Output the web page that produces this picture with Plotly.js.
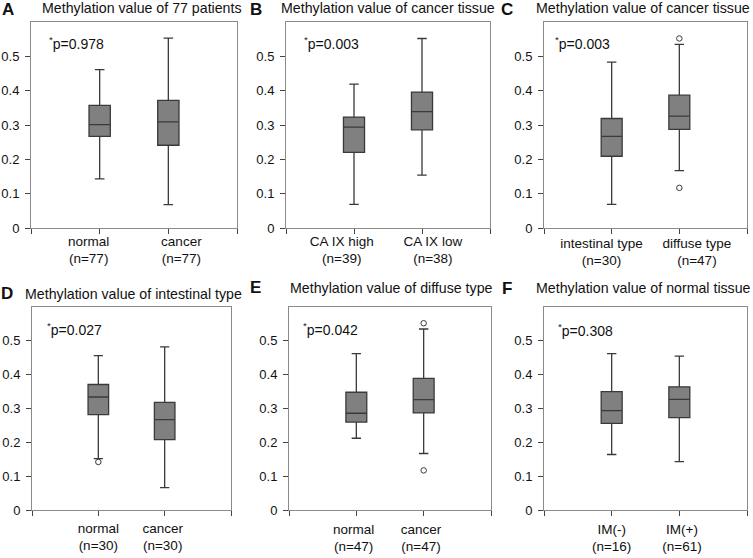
<!DOCTYPE html>
<html>
<head>
<meta charset="utf-8">
<script src="https://cdn.plot.ly/plotly-3.0.1.min.js"></script>
<style>
html,body{margin:0;padding:0;background:#fff;}
#chart{width:753px;height:558px;}
</style>
</head>
<body>
<div id="chart"></div>
<script>
// ---- data ----
const panelLetters = ['A','B','C','D','E','F'];
const panelTitles = [
  'Methylation value of 77 patients',
  'Methylation value of cancer tissue',
  'Methylation value of cancer tissue',
  'Methylation value of intestinal type',
  'Methylation value of diffuse type',
  'Methylation value of normal tissue'
];
const pValues = ['0.978','0.003','0.003','0.027','0.042','0.308'];
const groupLabels = [
  ['normal','cancer'],
  ['CA IX high','CA IX low'],
  ['intestinal type','diffuse type'],
  ['normal','cancer'],
  ['normal','cancer'],
  ['IM(-)','IM(+)']
];
const groupN = [[77,77],[39,38],[30,47],[30,30],[47,47],[16,61]];
const lowerWhisker = [[0.143,0.068],[0.069,0.154],[0.069,0.167],[0.152,0.066],[0.212,0.167],[0.164,0.143]];
const q1Values     = [[0.267,0.241],[0.220,0.286],[0.209,0.287],[0.282,0.208],[0.260,0.287],[0.256,0.273]];
const medianValues = [[0.301,0.309],[0.294,0.339],[0.267,0.326],[0.334,0.267],[0.286,0.326],[0.294,0.327]];
const q3Values     = [[0.357,0.372],[0.323,0.396],[0.319,0.387],[0.371,0.318],[0.348,0.389],[0.350,0.364]];
const upperWhisker = [[0.461,0.553],[0.419,0.552],[0.483,0.535],[0.456,0.482],[0.462,0.535],[0.462,0.455]];
const outlierValues = [
  [[],[]],
  [[],[]],
  [[],[0.552,0.117]],
  [[0.142],[]],
  [[],[0.552,0.117]],
  [[],[]]
];
const yTickValues = [0,0.1,0.2,0.3,0.4,0.5];
const yTickLabels = ['0','0.1','0.2','0.3','0.4','0.5'];

// ---- layout geometry ----
const W = 753, H = 558;
const xPix = [[31,237],[286,490],[544,747],[32,231],[289,491],[544,747]];
const yPix = [[22,228],[22,228],[22,228],[307,510],[307,510],[307,510]];
const letterPos = [[8,10],[256,10],[507,10],[7,293],[256,287],[507,289]];
const titlePos = [[142,8],[388,8],[643,8],[133,294],[391,288],[643,288]];
const pPos = [[47,43],[302,43],[553,43],[45,329],[301,329],[556,330]];
// horizontal offset (in category units) of each category label from its tick
const labelOffset = [[-0.16,0.19],[-0.18,0.16],[-0.15,0.26],[0,-0.03],[-0.04,-0.04],[0,0.04]];
const labelStandoff = [3,3,5,8,9,9];

const FONT = 'Liberation Sans, Arial, sans-serif';
const INK = '#111';
const BOX_LINE = '#3a3a3a';
const BOX_FILL = '#808080';

const traces = [];
const annotations = [];
const layout = {
  width: W, height: H,
  margin: {l:0, r:0, t:0, b:0},
  paper_bgcolor: '#fff',
  plot_bgcolor: '#fff',
  showlegend: false,
  font: {family: FONT, color: INK, size: 14},
  annotations: annotations
};

const positions = [1, 2];

for (let p = 0; p < 6; p++) {
  const k = p + 1;
  const xa = 'x' + (k === 1 ? '' : k);
  const ya = 'y' + (k === 1 ? '' : k);
  traces.push({
    type: 'box',
    x: positions,
    q1: q1Values[p],
    median: medianValues[p],
    q3: q3Values[p],
    lowerfence: lowerWhisker[p],
    upperfence: upperWhisker[p],
    width: 0.31,
    whiskerwidth: 0.45,
    fillcolor: BOX_FILL,
    line: {color: BOX_LINE, width: 1.3},
    boxpoints: false,
    hoverinfo: 'skip',
    xaxis: xa, yaxis: ya
  });
  const ox = [], oy = [];
  for (let g = 0; g < 2; g++) {
    for (const v of outlierValues[p][g]) { ox.push(positions[g]); oy.push(v); }
  }
  if (ox.length) {
    traces.push({
      type: 'scatter', mode: 'markers',
      x: ox, y: oy,
      marker: {symbol: 'circle-open', size: 5.5, color: BOX_LINE, line: {width: 1, color: BOX_LINE}},
      hoverinfo: 'skip',
      xaxis: xa, yaxis: ya
    });
  }
  const xKey = 'xaxis' + (k === 1 ? '' : k);
  const yKey = 'yaxis' + (k === 1 ? '' : k);
  const xDomain = [xPix[p][0]/W, xPix[p][1]/W];
  layout[xKey] = {
    domain: xDomain,
    anchor: ya,
    range: [0, 3],
    tickmode: 'array',
    tickvals: [0, 1, 2, 3],
    showticklabels: false,
    ticks: 'outside', ticklen: 5, tickcolor: '#444', tickwidth: 1,
    showline: true, linecolor: '#8a8a8a', linewidth: 1, mirror: true,
    showgrid: false, zeroline: false, fixedrange: true
  };
  // category label axis (same scale, labels placed like the original figure)
  const labKey = 'xaxis' + (k + 6);
  layout[labKey] = {
    domain: xDomain,
    overlaying: xa,
    anchor: ya,
    side: 'bottom',
    range: [0, 3],
    tickmode: 'array',
    tickvals: positions.map((v, g) => v + labelOffset[p][g]),
    ticktext: groupLabels[p].map((t, g) => t + '<br>(n=' + groupN[p][g] + ')'),
    tickangle: 0,
    ticks: '',
    ticklabelstandoff: labelStandoff[p],
    tickfont: {family: FONT, size: 13.5, color: INK},
    showline: false, showgrid: false, zeroline: false, fixedrange: true
  };
  layout[yKey] = {
    domain: [1 - yPix[p][1]/H, 1 - yPix[p][0]/H],
    anchor: xa,
    range: [0, 0.6],
    tickmode: 'array',
    tickvals: yTickValues,
    ticktext: yTickLabels,
    ticks: 'outside', ticklen: 5, tickcolor: '#444', tickwidth: 1,
    ticklabelstandoff: 3,
    tickfont: {family: FONT, size: 13, color: INK},
    showline: true, linecolor: '#8a8a8a', linewidth: 1, mirror: true,
    showgrid: false, zeroline: false, fixedrange: true
  };
  // invisible trace so the label axis is drawn
  traces.push({
    type: 'scatter', mode: 'none', x: [], y: [],
    xaxis: 'x' + (k + 6), yaxis: ya, hoverinfo: 'skip'
  });
  // panel letter
  annotations.push({
    xref: 'paper', yref: 'paper',
    x: letterPos[p][0]/W, y: 1 - letterPos[p][1]/H,
    xanchor: 'center', yanchor: 'middle', showarrow: false,
    text: '<b>' + panelLetters[p] + '</b>',
    font: {family: FONT, size: 17, color: INK}
  });
  // panel title
  annotations.push({
    xref: 'paper', yref: 'paper',
    x: titlePos[p][0]/W, y: 1 - titlePos[p][1]/H,
    xanchor: 'center', yanchor: 'middle', showarrow: false,
    text: panelTitles[p],
    font: {family: FONT, size: 14.2, color: INK}
  });
  // p value
  annotations.push({
    xref: 'paper', yref: 'paper',
    x: pPos[p][0]/W, y: 1 - pPos[p][1]/H,
    xanchor: 'left', yanchor: 'middle', showarrow: false,
    text: '<sup>*</sup>p=' + pValues[p],
    font: {family: FONT, size: 14, color: INK}
  });
}

Plotly.newPlot('chart', traces, layout, {displayModeBar: false, staticPlot: true});
</script>
</body>
</html>
